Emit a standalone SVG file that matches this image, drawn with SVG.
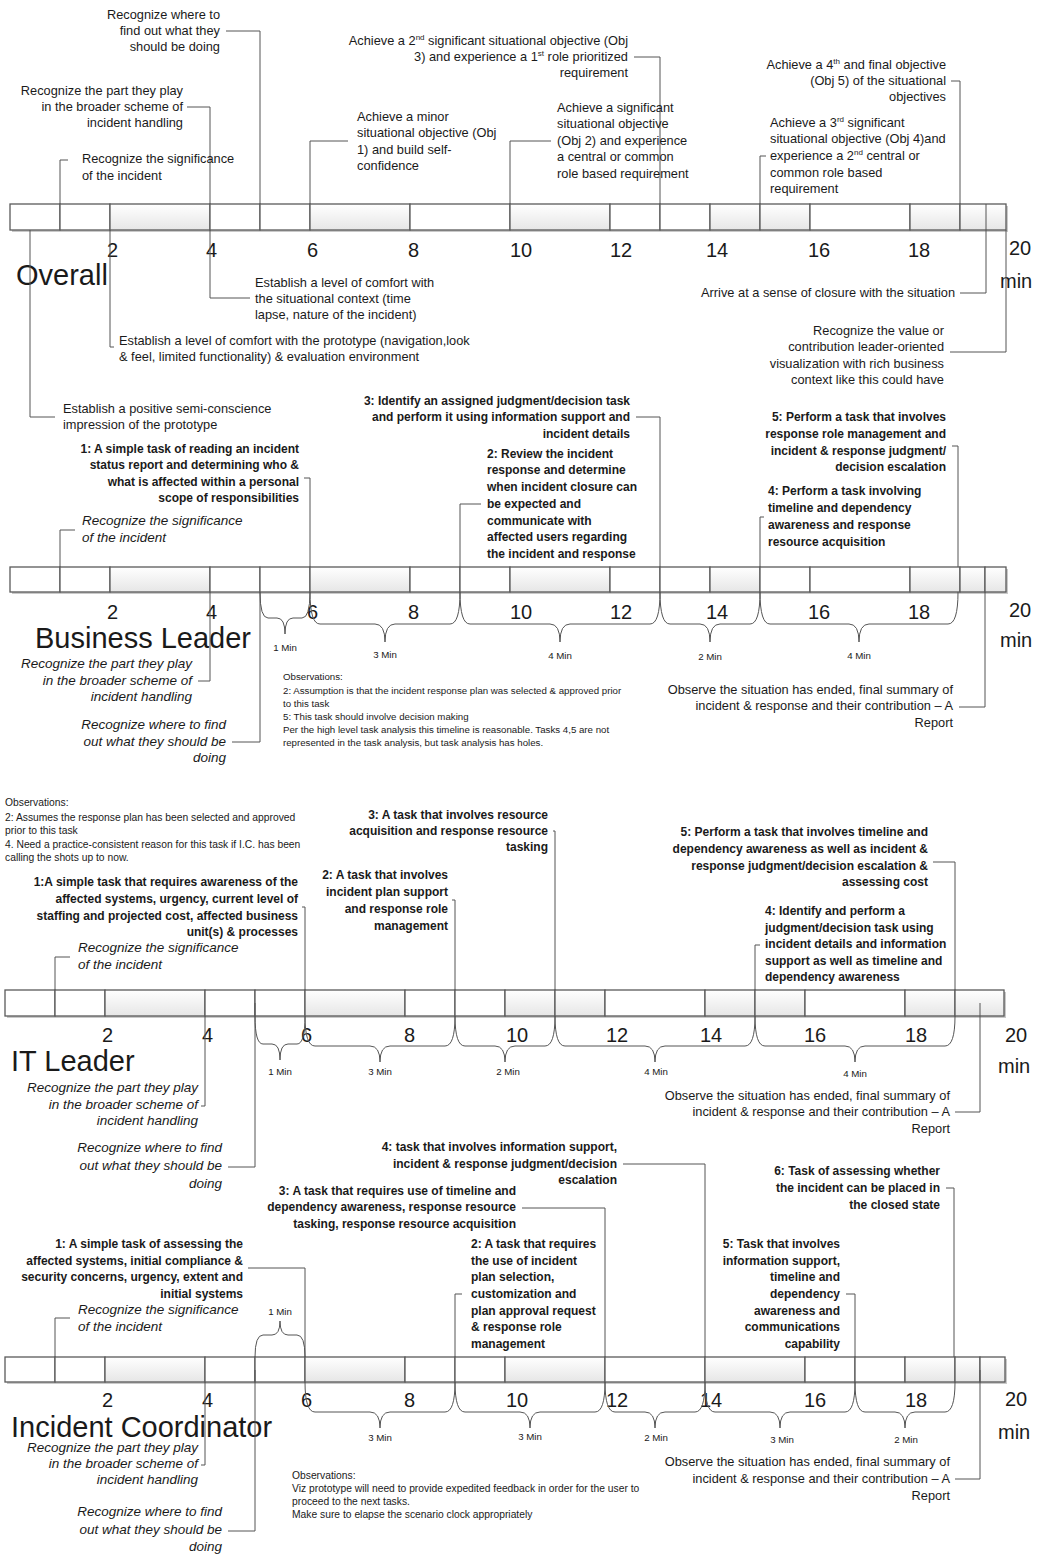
<svg xmlns="http://www.w3.org/2000/svg" width="1046" height="1555" viewBox="0 0 1046 1555">
<defs>
<linearGradient id="gg" x1="0" y1="0" x2="0" y2="1">
<stop offset="0" stop-color="#ffffff"/>
<stop offset="1" stop-color="#e6e6e6"/>
</linearGradient>
</defs>
<style>
text{font-family:"Liberation Sans",Arial,sans-serif;fill:#1a1a1a}
.t{font-size:12.8px}
.b{font-size:12px;font-weight:bold}
.i{font-size:13.5px;font-style:italic}
.s{font-size:9.7px}
.s2{font-size:10.3px}
.m{font-size:9.7px;text-anchor:middle}
.n{font-size:20px}
.h{font-size:29px}
.e{text-anchor:end}
.sup{font-size:8px}
.c{fill:none;stroke:#555555;stroke-width:1}
.br{fill:none;stroke:#555555;stroke-width:1}
.w{fill:#ffffff;stroke:#5a5a5a;stroke-width:1.3}
.g{fill:url(#gg);stroke:#5a5a5a;stroke-width:1.3}
.sh{fill:#c9c9c9}
</style>
<rect width="1046" height="1555" fill="#ffffff"/>

<!-- ===== Bars ===== -->
<g id="bar-overall">
<rect class="sh" x="12" y="206" width="996" height="26"/>
<rect class="w" x="10" y="204" width="50" height="26"/>
<rect class="w" x="60" y="204" width="50" height="26"/>
<rect class="g" x="110" y="204" width="100" height="26"/>
<rect class="w" x="210" y="204" width="50" height="26"/>
<rect class="w" x="260" y="204" width="50" height="26"/>
<rect class="g" x="310" y="204" width="100" height="26"/>
<rect class="w" x="410" y="204" width="100" height="26"/>
<rect class="g" x="510" y="204" width="100" height="26"/>
<rect class="w" x="610" y="204" width="50" height="26"/>
<rect class="w" x="660" y="204" width="50" height="26"/>
<rect class="g" x="710" y="204" width="50" height="26"/>
<rect class="g" x="760" y="204" width="50" height="26"/>
<rect class="w" x="810" y="204" width="100" height="26"/>
<rect class="g" x="910" y="204" width="50" height="26"/>
<rect class="g" x="960" y="204" width="46" height="26"/>
</g>
<g id="bar-business">
<rect class="sh" x="12" y="569" width="996" height="25"/>
<rect class="w" x="10" y="567" width="50" height="25"/>
<rect class="w" x="60" y="567" width="50" height="25"/>
<rect class="g" x="110" y="567" width="100" height="25"/>
<rect class="w" x="210" y="567" width="50" height="25"/>
<rect class="w" x="260" y="567" width="50" height="25"/>
<rect class="g" x="310" y="567" width="100" height="25"/>
<rect class="w" x="410" y="567" width="50" height="25"/>
<rect class="w" x="460" y="567" width="50" height="25"/>
<rect class="g" x="510" y="567" width="100" height="25"/>
<rect class="w" x="610" y="567" width="50" height="25"/>
<rect class="w" x="660" y="567" width="50" height="25"/>
<rect class="g" x="710" y="567" width="50" height="25"/>
<rect class="w" x="760" y="567" width="50" height="25"/>
<rect class="w" x="810" y="567" width="100" height="25"/>
<rect class="g" x="910" y="567" width="50" height="25"/>
<rect class="g" x="960" y="567" width="25" height="25"/>
<rect class="g" x="985" y="567" width="21" height="25"/>
</g>
<g id="bar-it">
<rect class="sh" x="7" y="992" width="999" height="26"/>
<rect class="w" x="5" y="990" width="50" height="26"/>
<rect class="w" x="55" y="990" width="50" height="26"/>
<rect class="g" x="105" y="990" width="100" height="26"/>
<rect class="w" x="205" y="990" width="50" height="26"/>
<rect class="w" x="255" y="990" width="50" height="26"/>
<rect class="g" x="305" y="990" width="100" height="26"/>
<rect class="w" x="405" y="990" width="50" height="26"/>
<rect class="w" x="455" y="990" width="50" height="26"/>
<rect class="g" x="505" y="990" width="50" height="26"/>
<rect class="g" x="555" y="990" width="50" height="26"/>
<rect class="w" x="605" y="990" width="100" height="26"/>
<rect class="g" x="705" y="990" width="50" height="26"/>
<rect class="g" x="755" y="990" width="50" height="26"/>
<rect class="w" x="805" y="990" width="100" height="26"/>
<rect class="g" x="905" y="990" width="50" height="26"/>
<rect class="g" x="955" y="990" width="49" height="26"/>
</g>
<g id="bar-ic">
<rect class="sh" x="7" y="1359" width="1000" height="25"/>
<rect class="w" x="5" y="1357" width="50" height="25"/>
<rect class="w" x="55" y="1357" width="50" height="25"/>
<rect class="g" x="105" y="1357" width="100" height="25"/>
<rect class="w" x="205" y="1357" width="50" height="25"/>
<rect class="w" x="255" y="1357" width="50" height="25"/>
<rect class="g" x="305" y="1357" width="100" height="25"/>
<rect class="w" x="405" y="1357" width="50" height="25"/>
<rect class="w" x="455" y="1357" width="50" height="25"/>
<rect class="g" x="505" y="1357" width="100" height="25"/>
<rect class="w" x="605" y="1357" width="100" height="25"/>
<rect class="g" x="705" y="1357" width="100" height="25"/>
<rect class="w" x="805" y="1357" width="50" height="25"/>
<rect class="w" x="855" y="1357" width="50" height="25"/>
<rect class="g" x="905" y="1357" width="50" height="25"/>
<rect class="g" x="955" y="1357" width="25" height="25"/>
<rect class="g" x="980" y="1357" width="25" height="25"/>
</g>

<!-- ===== Scale labels ===== -->
<g id="scale-overall" class="n">
<text x="107" y="257">2</text><text x="206" y="257">4</text><text x="307" y="257">6</text><text x="408" y="257">8</text>
<text x="510" y="257">10</text><text x="610" y="257">12</text><text x="706" y="257">14</text><text x="808" y="257">16</text>
<text x="908" y="257">18</text><text x="1009" y="255">20</text><text x="1000" y="288">min</text>
</g>
<g id="scale-business" class="n">
<text x="107" y="619">2</text><text x="206" y="619">4</text><text x="307" y="619">6</text><text x="408" y="619">8</text>
<text x="510" y="619">10</text><text x="610" y="619">12</text><text x="706" y="619">14</text><text x="808" y="619">16</text>
<text x="908" y="619">18</text><text x="1009" y="617">20</text><text x="1000" y="647">min</text>
</g>
<g id="scale-it" class="n">
<text x="102" y="1042">2</text><text x="202" y="1042">4</text><text x="301" y="1042">6</text><text x="404" y="1042">8</text>
<text x="506" y="1042">10</text><text x="606" y="1042">12</text><text x="700" y="1042">14</text><text x="804" y="1042">16</text>
<text x="905" y="1042">18</text><text x="1005" y="1042">20</text><text x="998" y="1073">min</text>
</g>
<g id="scale-ic" class="n">
<text x="102" y="1407">2</text><text x="202" y="1407">4</text><text x="301" y="1407">6</text><text x="404" y="1407">8</text>
<text x="506" y="1407">10</text><text x="606" y="1407">12</text><text x="700" y="1407">14</text><text x="804" y="1407">16</text>
<text x="905" y="1407">18</text><text x="1005" y="1406">20</text><text x="998" y="1439">min</text>
</g>

<!-- ===== Section titles ===== -->
<g id="title-overall"><text class="h" x="16" y="285">Overall</text></g>
<g id="title-business"><text class="h" x="35" y="648">Business Leader</text></g>
<g id="title-it"><text class="h" x="11" y="1071">IT Leader</text></g>
<g id="title-ic"><text class="h" x="11" y="1437">Incident Coordinator</text></g>

<!-- ===== Braces ===== -->
<g id="braces">
<path class="br" d="M260,592 Q260,618 268,618 H277 Q285,618 285,634 Q285,618 293,618 H302 Q310,618 310,592"/>
<path class="br" d="M310,592 Q310,624 320,624 H375 Q385,624 385,642 Q385,624 395,624 H450 Q460,624 460,592"/>
<path class="br" d="M460,592 Q460,624 470,624 H550 Q560,624 560,642 Q560,624 570,624 H650 Q660,624 660,592"/>
<path class="br" d="M660,592 Q660,624 670,624 H700 Q710,624 710,642 Q710,624 720,624 H750 Q760,624 760,592"/>
<path class="br" d="M760,592 Q760,624 770,624 H849 Q859,624 859,642 Q859,624 869,624 H948 Q958,624 958,592"/>

<path class="br" d="M255,1016 Q255,1044 263,1044 H272 Q280,1044 280,1060 Q280,1044 288,1044 H297 Q305,1044 305,1016"/>
<path class="br" d="M305,1016 Q305,1046 315,1046 H370 Q380,1046 380,1062 Q380,1046 390,1046 H445 Q455,1046 455,1016"/>
<path class="br" d="M455,1016 Q455,1046 465,1046 H495 Q505,1046 505,1062 Q505,1046 515,1046 H545 Q555,1046 555,1016"/>
<path class="br" d="M555,1016 Q555,1046 565,1046 H645 Q655,1046 655,1062 Q655,1046 665,1046 H745 Q755,1046 755,1016"/>
<path class="br" d="M755,1016 Q755,1046 765,1046 H845 Q855,1046 855,1062 Q855,1046 865,1046 H945 Q955,1046 955,1016"/>

<path class="br" d="M255,1357 Q255,1335 263,1335 H272 Q280,1335 280,1321 Q280,1335 288,1335 H297 Q305,1335 305,1357"/>
<path class="br" d="M305,1382 Q305,1412 315,1412 H370 Q380,1412 380,1428 Q380,1412 390,1412 H445 Q455,1412 455,1382"/>
<path class="br" d="M455,1382 Q455,1412 465,1412 H520 Q530,1412 530,1428 Q530,1412 540,1412 H595 Q605,1412 605,1382"/>
<path class="br" d="M605,1382 Q605,1412 615,1412 H645 Q655,1412 655,1428 Q655,1412 665,1412 H695 Q705,1412 705,1382"/>
<path class="br" d="M705,1382 Q705,1412 715,1412 H770 Q780,1412 780,1428 Q780,1412 790,1412 H845 Q855,1412 855,1382"/>
<path class="br" d="M855,1382 Q855,1412 865,1412 H895 Q905,1412 905,1428 Q905,1412 915,1412 H945 Q955,1412 955,1382"/>
</g>
<g id="duration-labels">
<text class="m" x="285" y="651">1 Min</text><text class="m" x="385" y="658">3 Min</text><text class="m" x="560" y="659">4 Min</text>
<text class="m" x="710" y="660">2 Min</text><text class="m" x="859" y="659">4 Min</text>
<text class="m" x="280" y="1075">1 Min</text><text class="m" x="380" y="1075">3 Min</text><text class="m" x="508" y="1075">2 Min</text>
<text class="m" x="656" y="1075">4 Min</text><text class="m" x="855" y="1077">4 Min</text>
<text class="m" x="280" y="1315">1 Min</text>
<text class="m" x="380" y="1441">3 Min</text><text class="m" x="530" y="1440">3 Min</text><text class="m" x="656" y="1441">2 Min</text>
<text class="m" x="782" y="1443">3 Min</text><text class="m" x="906" y="1443">2 Min</text>
</g>

<!-- ===== Connectors ===== -->
<g id="connectors">
<path class="c" d="M226,31 H260 V204"/>
<path class="c" d="M187,107 H210 V204"/>
<path class="c" d="M68,160 H60 V204"/>
<path class="c" d="M348,141 H310 V204"/>
<path class="c" d="M634,57 H660 V204"/>
<path class="c" d="M551,141 H510 V204"/>
<path class="c" d="M951,81 H960 V204"/>
<path class="c" d="M766,156 H760 V204"/>
<path class="c" d="M30,230 V417 H55"/>
<path class="c" d="M110,230 V347 H114"/>
<path class="c" d="M210,230 V298 H250"/>
<path class="c" d="M960,293 H986 V204"/>
<path class="c" d="M950,352 H1006 V230"/>

<path class="c" d="M636,417 H660 V567"/>
<path class="c" d="M952,446 H958 V567"/>
<path class="c" d="M304,478 H310 V567"/>
<path class="c" d="M481,504 H460 V567"/>
<path class="c" d="M764,517 H760 V567"/>
<path class="c" d="M75,530 H60 V567"/>
<path class="c" d="M198,681 H210 V592"/>
<path class="c" d="M232,742 H260 V592"/>
<path class="c" d="M959,707 H985 V592"/>

<path class="c" d="M553,831 H555 V990"/>
<path class="c" d="M933,862 H955 V990"/>
<path class="c" d="M302,907 H305 V990"/>
<path class="c" d="M452,900 H455 V990"/>
<path class="c" d="M760,945 H755 V990"/>
<path class="c" d="M70,957 H55 V990"/>
<path class="c" d="M201,1106 H205 V1016"/>
<path class="c" d="M228,1167 H255 V1003"/>
<path class="c" d="M955,1112 H980 V1003"/>

<path class="c" d="M623,1164 H705 V1357"/>
<path class="c" d="M946,1188 H954 V1357"/>
<path class="c" d="M522,1208 H605 V1357"/>
<path class="c" d="M248,1268 H305 V1357"/>
<path class="c" d="M462,1294 H455 V1357"/>
<path class="c" d="M846,1294 H855 V1357"/>
<path class="c" d="M70,1318 H55 V1357"/>
<path class="c" d="M201,1465 H205 V1382"/>
<path class="c" d="M228,1531 H255 V1370"/>
<path class="c" d="M955,1479 H980 V1370"/>
</g>

<!-- ===== Overall nodes ===== -->
<g id="ov-where">
<text class="t e" x="220" y="19">Recognize where to</text>
<text class="t e" x="220" y="35">find out what they</text>
<text class="t e" x="220" y="51">should be doing</text>
</g>
<g id="ov-part">
<text class="t e" x="183" y="95">Recognize the part they play</text>
<text class="t e" x="183" y="111">in the broader scheme of</text>
<text class="t e" x="183" y="127">incident handling</text>
</g>
<g id="ov-signif">
<text class="t" x="82" y="163">Recognize the significance</text>
<text class="t" x="82" y="180">of the incident</text>
</g>
<g id="ov-obj1">
<text class="t" x="357" y="121">Achieve a minor</text>
<text class="t" x="357" y="137">situational objective (Obj</text>
<text class="t" x="357" y="154">1) and build self-</text>
<text class="t" x="357" y="170">confidence</text>
</g>
<g id="ov-obj3">
<text class="t e" x="628" y="45">Achieve a 2<tspan class="sup" dy="-5">nd</tspan><tspan dy="5"> significant situational objective (Obj</tspan></text>
<text class="t e" x="628" y="61">3)  and experience a 1<tspan class="sup" dy="-5">st</tspan><tspan dy="5"> role prioritized</tspan></text>
<text class="t e" x="628" y="77">requirement</text>
</g>
<g id="ov-obj2">
<text class="t" x="557" y="112">Achieve a significant</text>
<text class="t" x="557" y="128">situational objective</text>
<text class="t" x="557" y="145">(Obj 2) and experience</text>
<text class="t" x="557" y="161">a central or common</text>
<text class="t" x="557" y="178">role based requirement</text>
</g>
<g id="ov-obj5">
<text class="t e" x="946" y="69">Achieve a 4<tspan class="sup" dy="-5">th</tspan><tspan dy="5"> and final objective</tspan></text>
<text class="t e" x="946" y="85">(Obj 5) of  the situational</text>
<text class="t e" x="946" y="101">objectives</text>
</g>
<g id="ov-obj4">
<text class="t" x="770" y="127">Achieve a 3<tspan class="sup" dy="-5">rd</tspan><tspan dy="5"> significant</tspan></text>
<text class="t" x="770" y="143">situational objective (Obj 4)and</text>
<text class="t" x="770" y="160">experience a 2<tspan class="sup" dy="-5">nd</tspan><tspan dy="5"> central or</tspan></text>
<text class="t" x="770" y="177">common role based</text>
<text class="t" x="770" y="193">requirement</text>
</g>
<g id="ov-context">
<text class="t" x="255" y="287">Establish a level of comfort with</text>
<text class="t" x="255" y="303">the situational context (time</text>
<text class="t" x="255" y="319">lapse, nature of the incident)</text>
</g>
<g id="ov-prototype">
<text class="t" x="119" y="345">Establish a level of comfort with the prototype (navigation,look</text>
<text class="t" x="119" y="361">&amp; feel, limited functionality) &amp; evaluation environment</text>
</g>
<g id="ov-positive">
<text class="t" x="63" y="413">Establish a positive semi-conscience</text>
<text class="t" x="63" y="429">impression of the prototype</text>
</g>
<g id="ov-closure">
<text class="t e" x="955" y="297">Arrive at a sense of closure with the situation</text>
</g>
<g id="ov-value">
<text class="t e" x="944" y="335">Recognize the value or</text>
<text class="t e" x="944" y="351">contribution leader-oriented</text>
<text class="t e" x="944" y="368">visualization with rich business</text>
<text class="t e" x="944" y="384">context like this could have</text>
</g>

<!-- ===== Business Leader nodes ===== -->
<g id="bl-task3">
<text class="b e" x="630" y="405">3: Identify an assigned judgment/decision task</text>
<text class="b e" x="630" y="421">and perform it using information support and</text>
<text class="b e" x="630" y="438">incident details</text>
</g>
<g id="bl-task5">
<text class="b e" x="946" y="421">5: Perform a task that involves</text>
<text class="b e" x="946" y="438">response role management and</text>
<text class="b e" x="946" y="455">incident &amp; response judgment/</text>
<text class="b e" x="946" y="471">decision escalation</text>
</g>
<g id="bl-task1">
<text class="b e" x="299" y="453">1: A simple task of reading an incident</text>
<text class="b e" x="299" y="469">status report and determining who &amp;</text>
<text class="b e" x="299" y="486">what is affected within a personal</text>
<text class="b e" x="299" y="502">scope of responsibilities</text>
</g>
<g id="bl-task2">
<text class="b" x="487" y="458">2: Review the incident</text>
<text class="b" x="487" y="474">response and determine</text>
<text class="b" x="487" y="491">when incident closure can</text>
<text class="b" x="487" y="508">be expected and</text>
<text class="b" x="487" y="525">communicate with</text>
<text class="b" x="487" y="541">affected users regarding</text>
<text class="b" x="487" y="558">the incident and response</text>
</g>
<g id="bl-task4">
<text class="b" x="768" y="495">4: Perform a task involving</text>
<text class="b" x="768" y="512">timeline and dependency</text>
<text class="b" x="768" y="529">awareness and response</text>
<text class="b" x="768" y="546">resource acquisition</text>
</g>
<g id="bl-signif">
<text class="i" x="82" y="525">Recognize the significance</text>
<text class="i" x="82" y="542">of the incident</text>
</g>
<g id="bl-part">
<text class="i e" x="192" y="668">Recognize the part they play</text>
<text class="i e" x="192" y="685">in the broader scheme of</text>
<text class="i e" x="192" y="701">incident handling</text>
</g>
<g id="bl-where">
<text class="i e" x="226" y="729">Recognize where to find</text>
<text class="i e" x="226" y="746">out what they should be</text>
<text class="i e" x="226" y="762">doing</text>
</g>
<g id="bl-observations">
<text class="s" x="283" y="680">Observations:</text>
<text class="s" x="283" y="694">2: Assumption is that the incident response plan was selected &amp; approved prior</text>
<text class="s" x="283" y="707">to this task</text>
<text class="s" x="283" y="720">5:  This task should involve decision making</text>
<text class="s" x="283" y="733">Per the high level task analysis this timeline is reasonable.  Tasks 4,5 are not</text>
<text class="s" x="283" y="746">represented in the task analysis, but task analysis has holes.</text>
</g>
<g id="bl-end">
<text class="t e" x="953" y="694">Observe the situation has ended, final summary of</text>
<text class="t e" x="953" y="710">incident &amp; response and their contribution – A</text>
<text class="t e" x="953" y="727">Report</text>
</g>

<!-- ===== IT Leader nodes ===== -->
<g id="it-observations">
<text class="s2" x="5" y="806">Observations:</text>
<text class="s2" x="5" y="821">2: Assumes the response plan has been selected and approved</text>
<text class="s2" x="5" y="834">prior to this task</text>
<text class="s2" x="5" y="848">4. Need a practice-consistent reason for this task if I.C. has been</text>
<text class="s2" x="5" y="861">calling the shots up to now.</text>
</g>
<g id="it-task3">
<text class="b e" x="548" y="819">3: A task that involves resource</text>
<text class="b e" x="548" y="835">acquisition and response resource</text>
<text class="b e" x="548" y="851">tasking</text>
</g>
<g id="it-task5">
<text class="b e" x="928" y="836">5: Perform a task that involves timeline and</text>
<text class="b e" x="928" y="853">dependency awareness as well as incident &amp;</text>
<text class="b e" x="928" y="870">response judgment/decision escalation &amp;</text>
<text class="b e" x="928" y="886">assessing cost</text>
</g>
<g id="it-task1">
<text class="b e" x="298" y="886">1:A simple task that requires awareness of the</text>
<text class="b e" x="298" y="903">affected systems, urgency, current level of</text>
<text class="b e" x="298" y="920">staffing and projected cost, affected business</text>
<text class="b e" x="298" y="936">unit(s) &amp; processes</text>
</g>
<g id="it-task2">
<text class="b e" x="448" y="879">2: A task that involves</text>
<text class="b e" x="448" y="896">incident plan support</text>
<text class="b e" x="448" y="913">and response role</text>
<text class="b e" x="448" y="930">management</text>
</g>
<g id="it-task4">
<text class="b" x="765" y="915">4: Identify and perform a</text>
<text class="b" x="765" y="932">judgment/decision task using</text>
<text class="b" x="765" y="948">incident details and information</text>
<text class="b" x="765" y="965">support as well as timeline and</text>
<text class="b" x="765" y="981">dependency awareness</text>
</g>
<g id="it-signif">
<text class="i" x="78" y="952">Recognize the significance</text>
<text class="i" x="78" y="969">of the incident</text>
</g>
<g id="it-part">
<text class="i e" x="198" y="1092">Recognize the part they play</text>
<text class="i e" x="198" y="1109">in the broader scheme of</text>
<text class="i e" x="198" y="1125">incident handling</text>
</g>
<g id="it-where">
<text class="i e" x="222" y="1152">Recognize where to find</text>
<text class="i e" x="222" y="1170">out what they should be</text>
<text class="i e" x="222" y="1188">doing</text>
</g>
<g id="it-end">
<text class="t e" x="950" y="1100">Observe the situation has ended, final summary of</text>
<text class="t e" x="950" y="1116">incident &amp; response and their contribution – A</text>
<text class="t e" x="950" y="1133">Report</text>
</g>

<!-- ===== Incident Coordinator nodes ===== -->
<g id="ic-task4">
<text class="b e" x="617" y="1151">4: task that involves information support,</text>
<text class="b e" x="617" y="1168">incident &amp; response judgment/decision</text>
<text class="b e" x="617" y="1184">escalation</text>
</g>
<g id="ic-task6">
<text class="b e" x="940" y="1175">6: Task of assessing whether</text>
<text class="b e" x="940" y="1192">the incident can be placed in</text>
<text class="b e" x="940" y="1209">the closed state</text>
</g>
<g id="ic-task3">
<text class="b e" x="516" y="1195">3: A task that requires use of timeline and</text>
<text class="b e" x="516" y="1211">dependency awareness, response resource</text>
<text class="b e" x="516" y="1228">tasking, response resource acquisition</text>
</g>
<g id="ic-task1">
<text class="b e" x="243" y="1248">1: A simple task of assessing the</text>
<text class="b e" x="243" y="1265">affected systems, initial compliance &amp;</text>
<text class="b e" x="243" y="1281">security concerns, urgency, extent and</text>
<text class="b e" x="243" y="1298">initial systems</text>
</g>
<g id="ic-task2">
<text class="b" x="471" y="1248">2: A task that requires</text>
<text class="b" x="471" y="1265">the use of incident</text>
<text class="b" x="471" y="1281">plan selection,</text>
<text class="b" x="471" y="1298">customization and</text>
<text class="b" x="471" y="1315">plan approval request</text>
<text class="b" x="471" y="1331">&amp; response role</text>
<text class="b" x="471" y="1348">management</text>
</g>
<g id="ic-task5">
<text class="b e" x="840" y="1248">5: Task that involves</text>
<text class="b e" x="840" y="1265">information support,</text>
<text class="b e" x="840" y="1281">timeline and</text>
<text class="b e" x="840" y="1298">dependency</text>
<text class="b e" x="840" y="1315">awareness and</text>
<text class="b e" x="840" y="1331">communications</text>
<text class="b e" x="840" y="1348">capability</text>
</g>
<g id="ic-signif">
<text class="i" x="78" y="1314">Recognize the significance</text>
<text class="i" x="78" y="1331">of the incident</text>
</g>
<g id="ic-part">
<text class="i e" x="198" y="1452">Recognize the part they play</text>
<text class="i e" x="198" y="1468">in the broader scheme of</text>
<text class="i e" x="198" y="1484">incident handling</text>
</g>
<g id="ic-where">
<text class="i e" x="222" y="1516">Recognize where to find</text>
<text class="i e" x="222" y="1534">out what they should be</text>
<text class="i e" x="222" y="1551">doing</text>
</g>
<g id="ic-observations">
<text class="s2" x="292" y="1479">Observations:</text>
<text class="s2" x="292" y="1492">Viz prototype will need to provide expedited feedback in order for the user to</text>
<text class="s2" x="292" y="1505">proceed to the next tasks.</text>
<text class="s2" x="292" y="1518">Make sure to elapse the scenario clock appropriately</text>
</g>
<g id="ic-end">
<text class="t e" x="950" y="1466">Observe the situation has ended, final summary of</text>
<text class="t e" x="950" y="1483">incident &amp; response and their contribution – A</text>
<text class="t e" x="950" y="1500">Report</text>
</g>
</svg>
